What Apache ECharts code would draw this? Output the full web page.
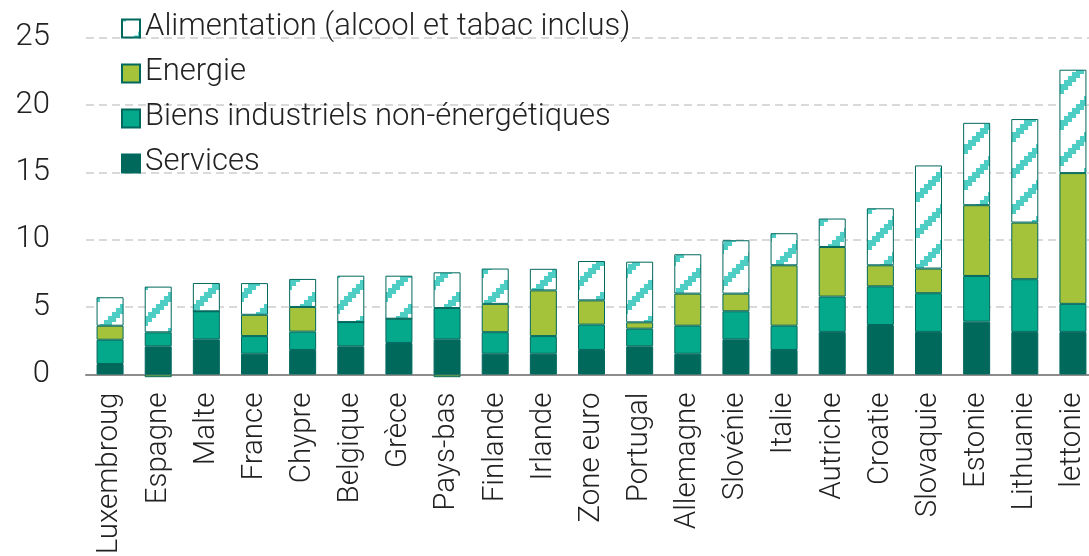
<!DOCTYPE html>
<html lang="fr">
<head>
    <meta charset="UTF-8">
    <title>Inflation par pays</title>
    <style>
        html, body { margin: 0; padding: 0; background: #fff; }
        #chart { width: 1089px; height: 556px; }
    </style>
</head>
<body>
<div id="chart"></div>
<script src="https://cdn.jsdelivr.net/npm/echarts@6/dist/echarts.min.js"></script>
<script>
    var pays = ['Luxembroug', 'Espagne', 'Malte', 'France', 'Chypre', 'Belgique', 'Grèce', 'Pays-bas',
        'Finlande', 'Irlande', 'Zone euro', 'Portugal', 'Allemagne', 'Slovénie', 'Italie', 'Autriche',
        'Croatie', 'Slovaquie', 'Estonie', 'Lithuanie', 'lettonie'];
    var services = [0.78, 2.09, 2.61, 1.54, 1.82, 2.09, 2.34, 2.61, 1.54, 1.54, 1.82, 2.09, 1.54, 2.61, 1.82, 3.16, 3.67, 3.16, 3.92, 3.16, 3.16];
    var biens = [1.80, 1.04, 2.08, 1.31, 1.36, 1.80, 1.80, 2.32, 1.60, 1.31, 1.88, 1.31, 2.08, 2.08, 1.80, 2.62, 2.87, 2.87, 3.39, 3.91, 2.08];
    var energie = [1.04, -0.2, 0, 1.58, 1.83, 0, 0, -0.2, 2.10, 3.39, 1.80, 0.47, 2.38, 1.31, 4.48, 3.68, 1.56, 1.83, 5.25, 4.20, 9.70];
    var alimentation = [2.11, 3.39, 2.10, 2.35, 2.08, 3.44, 3.19, 2.65, 2.62, 1.60, 2.92, 4.50, 2.92, 3.96, 2.38, 2.11, 4.23, 7.65, 6.11, 7.68, 7.67];
    var yTicks = [0, 5, 10, 15, 20, 25];

    var fontFam = 'Roboto, "Liberation Sans", sans-serif';

    // motif hachuré en escalier pour l'alimentation
    var tile = document.createElement('canvas');
    tile.width = 36;
    tile.height = 36;
    var ctx = tile.getContext('2d');
    ctx.fillStyle = '#fff';
    ctx.fillRect(0, 0, 36, 36);
    ctx.fillStyle = '#4ecdc4';
    for (var k = 0; k < 9; k++) {
        var yTop = 36 - (k + 1) * 4 - 4;
        [-36, 0, 36].forEach(function (off) {
            ctx.fillRect(k * 4, yTop + off, 4, 10);
        });
    }

    var border = '#00685c';
    function serie(name, data, color) {
        return {
            name: name,
            type: 'bar',
            stack: 'total',
            barWidth: 27,
            clip: false,
            data: data,
            itemStyle: {
                color: color,
                borderColor: border,
                borderWidth: 1
            }
        };
    }

    var chart = echarts.init(document.getElementById('chart'));
    chart.setOption({
        animation: false,
        textStyle: { fontFamily: fontFam },
        legend: {
            orient: 'vertical',
            left: 116,
            top: 7,
            itemWidth: 18,
            itemHeight: 18,
            itemGap: 12,
            icon: 'rect',
            formatter: '{t|{name}}',
            textStyle: {
                rich: {
                    t: { fontSize: 31, fontWeight: 300, color: '#222', lineHeight: 22, padding: [0, 0, 2, 0] }
                }
            },
            data: ['Alimentation (alcool et tabac inclus)', 'Energie', 'Biens industriels non-énergétiques', 'Services']
        },
        grid: { left: 86, top: 37.5, width: 1011, height: 337, outerBoundsMode: 'none', containLabel: false },
        xAxis: {
            type: 'category',
            data: pays,
            axisLine: { lineStyle: { color: '#8c8c8c', width: 2 } },
            axisTick: { alignWithLabel: false, length: 11, lineStyle: { color: '#8c8c8c', width: 2 } },
            axisLabel: { rotate: 90, margin: 18, fontSize: 29.5, fontWeight: 300, color: '#222', interval: 0 }
        },
        yAxis: {
            type: 'value',
            min: yTicks[0],
            max: yTicks[yTicks.length - 1],
            interval: 5,
            axisLine: { show: false },
            axisTick: { show: false },
            axisLabel: { fontSize: 31, fontWeight: 300, color: '#222', margin: 36 },
            splitLine: { lineStyle: { color: '#d9d9d9', width: 2, type: [8, 5] } }
        },
        series: [
            serie('Services', services, '#00695c'),
            serie('Biens industriels non-énergétiques', biens, '#03a98a'),
            serie('Energie', energie, '#a5c33a'),
            serie('Alimentation (alcool et tabac inclus)', alimentation, { image: tile, repeat: 'repeat' })
        ]
    });
</script>
</body>
</html>
